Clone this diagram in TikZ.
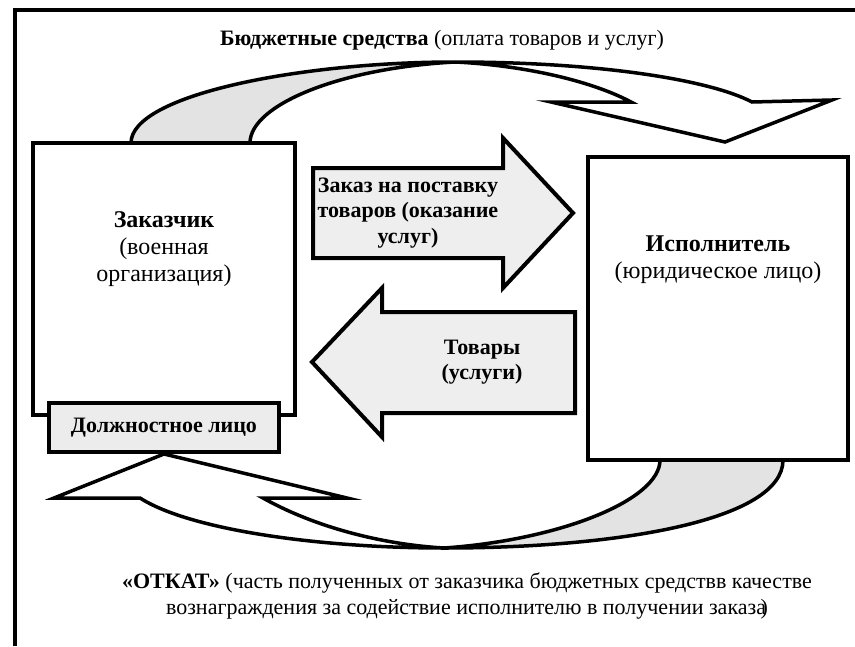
\documentclass[tikz,border=0pt]{standalone}
\usepackage{fontspec}
\setmainfont{Liberation Serif}
\usetikzlibrary{positioning}

\begin{document}
\begin{tikzpicture}[
  x=1pt,y=-1pt,
  frameline/.style={line width=4pt},
  mybox/.style={draw,line width=4.5pt,fill=white,inner sep=0pt},
  mylabel/.style={align=center,font=\fontsize{22}{25.5}\selectfont},
  mylabelb/.style={align=center,font=\fontsize{22}{25.5}\selectfont\bfseries},
  boxlabel/.style={align=center,font=\fontsize{24}{27}\selectfont},
  blockarrow/.style={draw,line width=4pt,fill=gray!13,line join=miter},
  ribbon/.style={draw,line width=3.5pt,line join=miter}
]
\useasboundingbox (0,0) rectangle (855,646);
\draw[frameline] (15,646) -- (15,10) -- (855,10);

\node[mylabel] (budget) at (442,40) {\textbf{Бюджетные средства} (оплата товаров и услуг)};

% upper ribbon
\draw[ribbon,fill=gray!22] (131,143) .. controls (131,95) and (300,62) .. (455,62)
  .. controls (340,68) and (250,105) .. (250,143) -- cycle;
\draw[ribbon,fill=white] (455,62) .. controls (600,62) and (710,80) .. (752,102)
  -- (832,100) -- (725,142) -- (551,102) -- (631,102)
  .. controls (590,80) and (520,65) .. (455,62) -- cycle;

% lower ribbon
\draw[ribbon,fill=gray!22] (783,460) .. controls (783,520) and (620,548) .. (444,548)
  .. controls (560,540) and (660,500) .. (660,460) -- cycle;
\draw[ribbon,fill=white] (444,548) .. controls (320,548) and (190,530) .. (140,498)
  -- (54,498) -- (164,454) -- (347,498) -- (263,498)
  .. controls (320,530) and (390,545) .. (444,548) -- cycle;

\node[mybox,minimum width=262pt,minimum height=272pt] (zak) at (164,279) {};
\node[mybox,minimum width=260pt,minimum height=303pt] (isp) at (718,308.5) {};
\node[boxlabel] (zaktext) at (164,249) {\textbf{Заказчик}\\(военная\\организация)};
\node[boxlabel] (isptext) at (718,260) {\textbf{Исполнитель}\\(юридическое лицо)};

\draw[blockarrow] (313,168) -- (503,168) -- (503,138) -- (573,213) -- (503,288)
  -- (503,258) -- (313,258) -- cycle;
\draw[blockarrow] (575,312) -- (382,312) -- (382,288) -- (312,362) -- (382,437)
  -- (382,413) -- (575,413) -- cycle;
\node[mylabelb] (zakaz) at (408,213) {Заказ на поставку\\товаров (оказание\\услуг)};
\node[mylabelb] (tovary) at (482,362) {Товары\\(услуги)};

\node[mybox,fill=gray!15,minimum width=230pt,minimum height=49pt,mylabelb] (dolzh) at (164,427.5) {Должностное лицо};

\node[mylabel] (otkat) at (467,596) {\textbf{«ОТКАТ»} (часть полученных от заказчика бюджетных средствв качестве\\вознаграждения за содействие исполнителю в получении заказа\kern-0.25em)};
\end{tikzpicture}
\end{document}
